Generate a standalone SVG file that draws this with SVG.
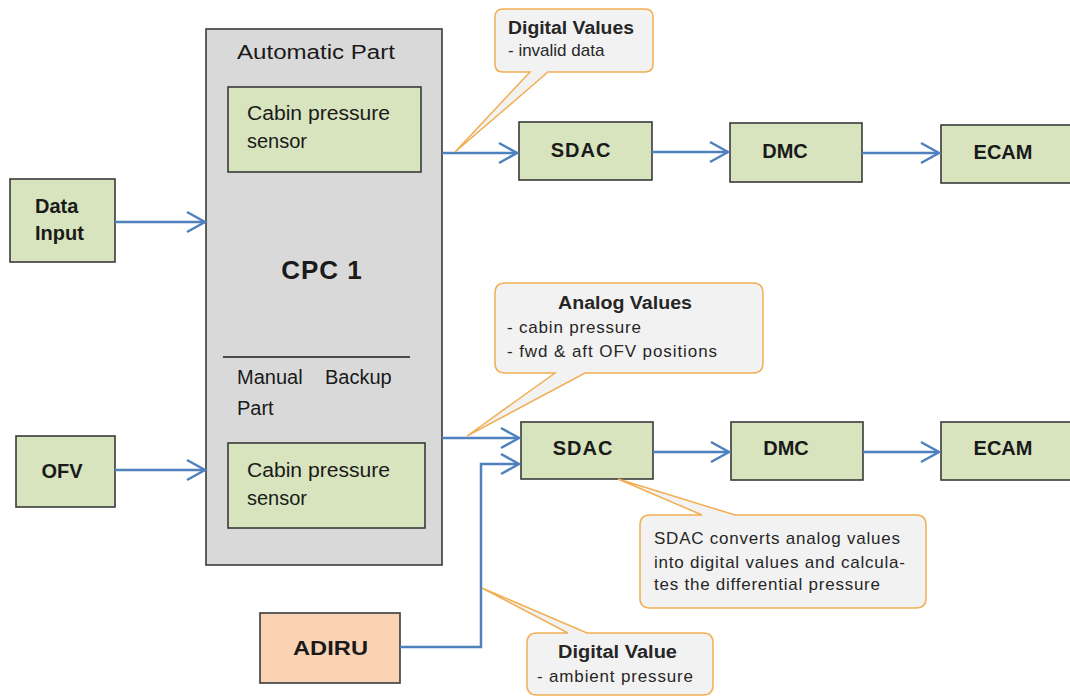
<svg xmlns="http://www.w3.org/2000/svg" width="1070" height="696" viewBox="0 0 1070 696">
  <style>
    .box { fill: #D7E4BD; stroke: #3a3a3a; stroke-width: 1.6; }
    .cpc { fill: #D9D9D9; stroke: #3a3a3a; stroke-width: 1.6; }
    .adiru { fill: #FAD3B4; stroke: #3a3a3a; stroke-width: 1.6; }
    .call { fill: #F2F2F2; stroke: #F2AE52; stroke-width: 1.5; }
    .wire { fill: none; stroke: #4F81BD; stroke-width: 2.5; marker-end: url(#chev); }
    text { font-family: "Liberation Sans", Arial, sans-serif; fill: #1a1a1a; }
    .lbl { font-size: 20px; font-weight: bold; }
    .reg { font-size: 20px; }
    .cb { font-size: 18px; font-weight: bold; fill: #262626; }
    .cr { font-size: 17px; fill: #262626; }
  </style>
  <defs>
    <marker id="chev" viewBox="-21 -12 24 24" refX="0" refY="0" markerUnits="userSpaceOnUse" markerWidth="24" markerHeight="24" orient="auto">
      <path d="M-18,-10 L0,0 L-18,10" fill="none" stroke="#4F81BD" stroke-width="2.5" stroke-linejoin="miter"/>
    </marker>
  </defs>

  <!-- CPC 1 with its two sections -->
  <g id="cpc1">
    <rect class="cpc" x="206" y="29" width="236" height="536"/>
    <text class="reg" x="237" y="59" font-size="22" textLength="158" lengthAdjust="spacingAndGlyphs">Automatic Part</text>
    <text x="322" y="279" text-anchor="middle" font-size="26" font-weight="bold" letter-spacing="1">CPC 1</text>
    <line x1="223" y1="357" x2="410" y2="357" stroke="#1a1a1a" stroke-width="1.3"/>
    <text class="reg" x="237" y="384" font-size="22">Manual</text>
    <text class="reg" x="325" y="384" font-size="22">Backup</text>
    <text class="reg" x="237" y="415" font-size="22">Part</text>
  </g>
  <g id="sensor-auto">
    <rect class="box" x="228" y="87" width="193" height="85"/>
    <text class="reg" x="247" y="120" textLength="143" lengthAdjust="spacingAndGlyphs">Cabin pressure</text>
    <text class="reg" x="247" y="148">sensor</text>
  </g>
  <g id="sensor-manual">
    <rect class="box" x="228" y="443" width="197" height="85"/>
    <text class="reg" x="247" y="477" textLength="143" lengthAdjust="spacingAndGlyphs">Cabin pressure</text>
    <text class="reg" x="247" y="505">sensor</text>
  </g>

  <!-- inputs -->
  <g id="data-input">
    <rect class="box" x="10" y="179" width="105" height="83"/>
    <text class="lbl" x="35" y="213">Data</text>
    <text class="lbl" x="35" y="240">Input</text>
  </g>
  <g id="ofv">
    <rect class="box" x="16" y="436" width="99" height="71"/>
    <text class="lbl" x="62" y="478" text-anchor="middle">OFV</text>
  </g>
  <g id="adiru">
    <rect class="adiru" x="260" y="613" width="140" height="70"/>
    <text class="lbl" x="293" y="655" font-size="24" textLength="75" lengthAdjust="spacingAndGlyphs">ADIRU</text>
  </g>

  <!-- upper chain -->
  <g id="sdac-1">
    <rect class="box" x="519" y="122" width="133" height="58"/>
    <text class="lbl" x="581" y="157" text-anchor="middle" letter-spacing="1">SDAC</text>
  </g>
  <g id="dmc-1">
    <rect class="box" x="730" y="123" width="132" height="59"/>
    <text class="lbl" x="785" y="158" text-anchor="middle">DMC</text>
  </g>
  <g id="ecam-1">
    <rect class="box" x="941" y="125" width="135" height="58"/>
    <text class="lbl" x="1003" y="159" text-anchor="middle">ECAM</text>
  </g>

  <!-- lower chain -->
  <g id="sdac-2">
    <rect class="box" x="521" y="422" width="132" height="57"/>
    <text class="lbl" x="583" y="455" text-anchor="middle" letter-spacing="1">SDAC</text>
  </g>
  <g id="dmc-2">
    <rect class="box" x="731" y="422" width="132" height="58"/>
    <text class="lbl" x="786" y="455" text-anchor="middle">DMC</text>
  </g>
  <g id="ecam-2">
    <rect class="box" x="941" y="422" width="135" height="58"/>
    <text class="lbl" x="1003" y="455" text-anchor="middle">ECAM</text>
  </g>

  <!-- connectors -->
  <g id="connectors">
    <path class="wire" d="M115,222 H205"/>
    <path class="wire" d="M115,470 H205"/>
    <path class="wire" d="M442,153 H517"/>
    <path class="wire" d="M652,152 H728"/>
    <path class="wire" d="M862,153 H939"/>
    <path class="wire" d="M442,438 H519"/>
    <path class="wire" d="M400,647 H481 V464 H519"/>
    <path class="wire" d="M653,452 H729"/>
    <path class="wire" d="M863,452 H939"/>
  </g>

  <!-- callouts -->
  <g id="note-digital-values">
    <path class="call" d="M503,9 H645 Q653,9 653,17 V64 Q653,72 645,72 H548 L455,152 L530,72 H503 Q495,72 495,64 V17 Q495,9 503,9 Z"/>
    <text class="cb" x="508" y="34" textLength="126" lengthAdjust="spacingAndGlyphs">Digital Values</text>
    <text class="cr" x="508" y="56">- invalid data</text>
  </g>
  <g id="note-analog-values">
    <path class="call" d="M505,283 H753 Q763,283 763,293 V363 Q763,373 753,373 H585 L467,436 L555,373 H505 Q495,373 495,363 V293 Q495,283 505,283 Z"/>
    <text class="cb" x="558" y="309" textLength="134" lengthAdjust="spacingAndGlyphs">Analog Values</text>
    <text class="cr" x="507" y="333" textLength="134" lengthAdjust="spacing">- cabin pressure</text>
    <text class="cr" x="507" y="357" textLength="210" lengthAdjust="spacing">- fwd &amp; aft OFV positions</text>
  </g>
  <g id="note-sdac">
    <path class="call" d="M650,515 H702 L618,479 L735,515 H916 Q926,515 926,525 V598 Q926,608 916,608 H650 Q640,608 640,598 V525 Q640,515 650,515 Z"/>
    <text class="cr" x="654" y="544" textLength="246" lengthAdjust="spacing">SDAC converts analog values</text>
    <text class="cr" x="654" y="568" textLength="251" lengthAdjust="spacing">into digital values and calcula-</text>
    <text class="cr" x="654" y="590" textLength="226" lengthAdjust="spacing">tes the differential pressure</text>
  </g>
  <g id="note-digital-value">
    <path class="call" d="M537,633 H568 L482,588 L587,633 H703 Q713,633 713,643 V685 Q713,695 703,695 H537 Q527,695 527,685 V643 Q527,633 537,633 Z"/>
    <text class="cb" x="558" y="658" textLength="119" lengthAdjust="spacingAndGlyphs">Digital Value</text>
    <text class="cr" x="537" y="682" textLength="156" lengthAdjust="spacing">- ambient pressure</text>
  </g>
</svg>
